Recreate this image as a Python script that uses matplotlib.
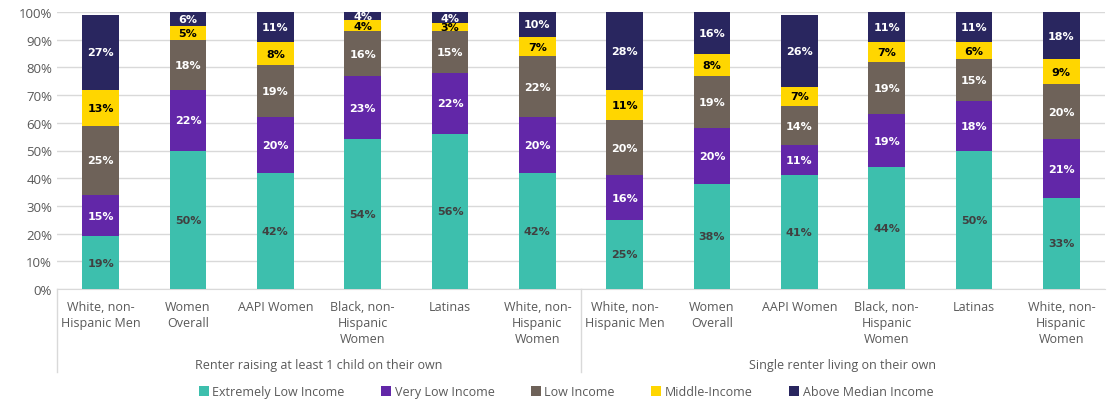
import numpy as np
import matplotlib
matplotlib.use('Agg')
import matplotlib.pyplot as plt
from matplotlib.patches import Patch

# categories and groups
categories = ['White, non-\nHispanic Men', 'Women\nOverall', 'AAPI Women',
              'Black, non-\nHispanic\nWomen', 'Latinas', 'White, non-\nHispanic\nWomen'] * 2
groups = ['Renter raising at least 1 child on their own', 'Single renter living on their own']

series = ['Extremely Low Income', 'Very Low Income', 'Low Income', 'Middle-Income', 'Above Median Income']
extremely_low = [19, 50, 42, 54, 56, 42, 25, 38, 41, 44, 50, 33]
very_low = [15, 22, 20, 23, 22, 20, 16, 20, 11, 19, 18, 21]
low = [25, 18, 19, 16, 15, 22, 20, 19, 14, 19, 15, 20]
middle = [13, 5, 8, 4, 3, 7, 11, 8, 7, 7, 6, 9]
above_median = [27, 6, 11, 4, 4, 10, 28, 16, 26, 11, 11, 18]

colors = ['#3DBFAD', '#6227A8', '#6E6259', '#FFD600', '#29265F']
label_colors = ['#404040', 'white', 'white', 'black', 'white']

plt.rcParams['font.family'] = ['Open Sans', 'DejaVu Sans']

fig = plt.figure(figsize=(11.07, 4.02), dpi=100)
ax = fig.add_axes([57/1107, 1 - 290/402, 1048/1107, 277/402])

x = np.arange(len(categories))
data = [extremely_low, very_low, low, middle, above_median]
bottom = np.zeros(len(categories))
for vals, c, lc, name in zip(data, colors, label_colors, series):
    v = np.array(vals) / 100
    ax.bar(x, v, 0.42, bottom=bottom, color=c, label=name, zorder=3)
    for xi, b, h, raw in zip(x, bottom, v, vals):
        yc = min(b + h / 2, (b + 1) / 2) if b + h > 1 else b + h / 2
        ax.text(xi, yc, f'{raw}%', ha='center', va='center', color=lc,
                fontsize=8, fontweight='bold', family='DejaVu Sans', zorder=4)
    bottom += v

ax.set_ylim(0, 1)
ax.set_xlim(-0.5, len(categories) - 0.5)
ax.set_yticks(np.arange(0, 1.01, 0.1))
ax.set_yticklabels([f'{int(round(t*100))}%' for t in np.arange(0, 1.01, 0.1)])
ax.set_xticks(x)
ax.set_xticklabels(categories, fontsize=9, color='#595959', linespacing=1.3, va='top')
ax.tick_params(axis='both', length=0, colors='#595959', labelsize=9.5)
ax.tick_params(axis='x', pad=8, labelsize=9)
ax.grid(axis='y', color='#D9D9D9', linewidth=1, zorder=0)
for s in ['top', 'right', 'left']:
    ax.spines[s].set_visible(False)
ax.spines['bottom'].set_color('#D9D9D9')

# group separators and labels
trans = ax.get_xaxis_transform()
for xs in [-0.5, 5.5]:
    ax.plot([xs, xs], [0, -0.30], color='#D9D9D9', lw=1, transform=trans, clip_on=False)
for i, g in enumerate(groups):
    ax.text(2.5 + 6 * i, -0.272, g, ha='center', va='center', transform=trans,
            fontsize=9, color='#595959')

handles = [Patch(facecolor=c, label=n) for c, n in zip(colors, series)]
fig.legend(handles=handles, loc='center', bbox_to_anchor=(566/1107, 1 - 393/402), ncol=5,
           frameon=False, fontsize=9, handlelength=0.8, handleheight=0.8,
           handletextpad=0.3, columnspacing=2.9, labelcolor='#595959')

fig.savefig('out.png', dpi=100)
